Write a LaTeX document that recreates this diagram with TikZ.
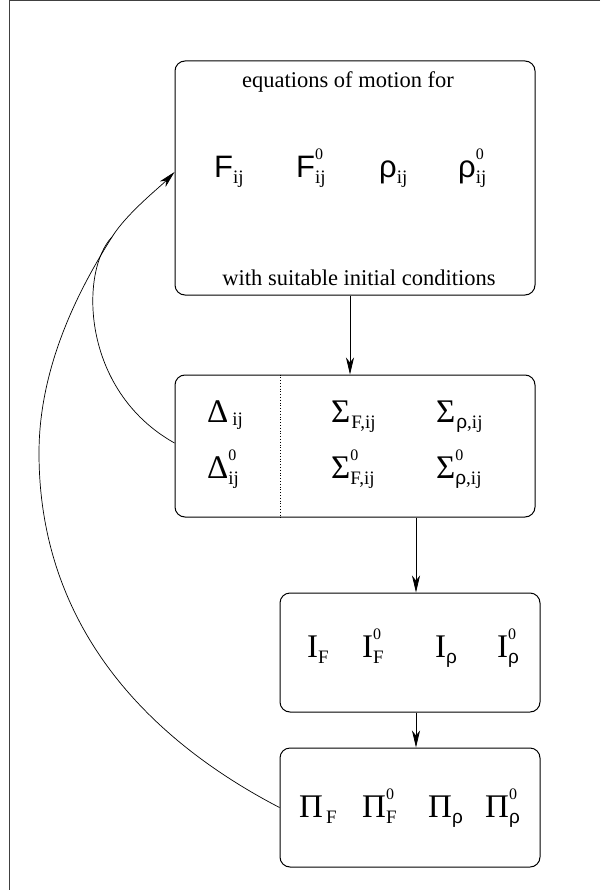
\documentclass[tikz,border=0pt]{standalone}
\usepackage{fontspec}
\setmainfont{Liberation Serif}
\newfontfamily\grsans{Liberation Sans}
\usetikzlibrary{arrows.meta}
\newcommand\bigsz{\fontsize{33}{33}\selectfont}
\newcommand\subsz{\fontsize{19}{19}\selectfont}
\newcommand\supsz{\fontsize{16}{16}\selectfont}
% base letter, subscript below, superscript on top of it
\newcommand\symb[3]{#1{\subsz\rlap{\supsz\raisebox{18pt}{#3}}\raisebox{-6pt}{#2}}}
\newcommand\rh{{\grsans ρ}}
\tikzset{
  box/.style  = {draw, line width=1pt, rounded corners=10pt, inner sep=0pt},
  wire/.style = {line width=0.7pt},
  vec/.style  = {-{Stealth[length=17pt,width=8pt,inset=5pt]}, line width=0.7pt},
  sym/.style  = {anchor=base west, inner sep=0pt, font=\bigsz},
  lbl/.style  = {anchor=base, inner sep=0pt, font=\fontsize{22.5}{22.5}\selectfont},
}
\begin{document}
\begin{tikzpicture}[x=1pt,y=-1pt]
  \useasboundingbox (0,0) rectangle (600,890);
  \draw[line width=1pt, black!75] (600,1) -- (9,1) -- (9,890);
  % equations of motion
  \node[box, minimum width=360pt, minimum height=234pt] (b1) at (355,178) {};
  \node[lbl] (eqtop) at (348,88) {equations of motion for};
  \node[lbl] (eqbot) at (359,285) {with suitable initial conditions};
  \node[sym, font=\fontsize{31}{31}\selectfont] (fij)  at (214,178) {\symb{{\grsans F}}{ij}{}};
  \node[sym, font=\fontsize{31}{31}\selectfont] (fzij) at (296,178) {\symb{{\grsans F}}{ij}{0}};
  \node[sym, font=\fontsize{31}{31}\selectfont] (rij)  at (379,178) {\symb{\rh}{ij}{}};
  \node[sym, font=\fontsize{31}{31}\selectfont] (rzij) at (458,178) {\symb{\rh}{ij}{0}};
  % self energies
  \node[box, minimum width=360pt, minimum height=142pt] (b2) at (355,446) {};
  \draw[dotted, line width=0.8pt] ([xshift=-75pt]b2.north) -- ([xshift=-75pt]b2.south);
  \node[sym] (dij)  at (207,422) {\symb{Δ\kern4pt}{\raisebox{3pt}{ij}}{}};
  \node[sym] (dzij) at (207,478) {\symb{Δ}{ij}{0}};
  \node[sym] (sfij) at (331,422) {\symb{Σ\kern1pt}{F,ij}{}};
  \node[sym] (srij) at (436,422) {\symb{Σ\kern1pt}{\rh,ij}{}};
  \node[sym] (sfz)  at (331,478) {\symb{Σ}{F,ij}{0}};
  \node[sym] (srz)  at (436,478) {\symb{Σ}{\rh,ij}{0}};
  % integrals
  \node[box, minimum width=260pt, minimum height=119pt] (b3) at (410,652.5) {};
  \node[sym] (iF)  at (307,657) {\symb{I}{F}{}};
  \node[sym] (izF) at (362,657) {\symb{I}{F}{0}};
  \node[sym] (ir)  at (435,657) {\symb{I}{\rh}{}};
  \node[sym] (izr) at (497,657) {\symb{I}{\rh}{0}};
  % Pi
  \node[box, minimum width=260pt, minimum height=119pt] (b4) at (410,807.5) {};
  \node[sym] (pF)  at (299,817) {\symb{Π\kern3pt}{F}{}};
  \node[sym] (pzF) at (362,817) {\symb{Π}{F}{0}};
  \node[sym] (pr)  at (428,817) {\symb{Π}{\rh}{}};
  \node[sym] (pzr) at (485,817) {\symb{Π}{\rh}{0}};
  % arrows
  \draw[vec] ([xshift=-5pt]b1.south) -- ([xshift=-5pt]b2.north);
  \draw[vec] ([xshift=61pt]b2.south) -- ([xshift=6pt]b3.north);
  \draw[vec] ([xshift=6pt]b3.south) -- ([xshift=6pt]b4.north);
  \coordinate (merge) at (112,237);
  \draw[vec] (b4.west) .. controls (140,735) and (39,620) .. (39,453)
    .. controls (39,360) and (85,280) .. (merge)
    .. controls (127,213) and (160,187) .. ([yshift=6pt]b1.west);
  \draw[wire] ([yshift=3pt]b2.west) .. controls (80,390) and (80,270) .. (merge);
\end{tikzpicture}
\end{document}
